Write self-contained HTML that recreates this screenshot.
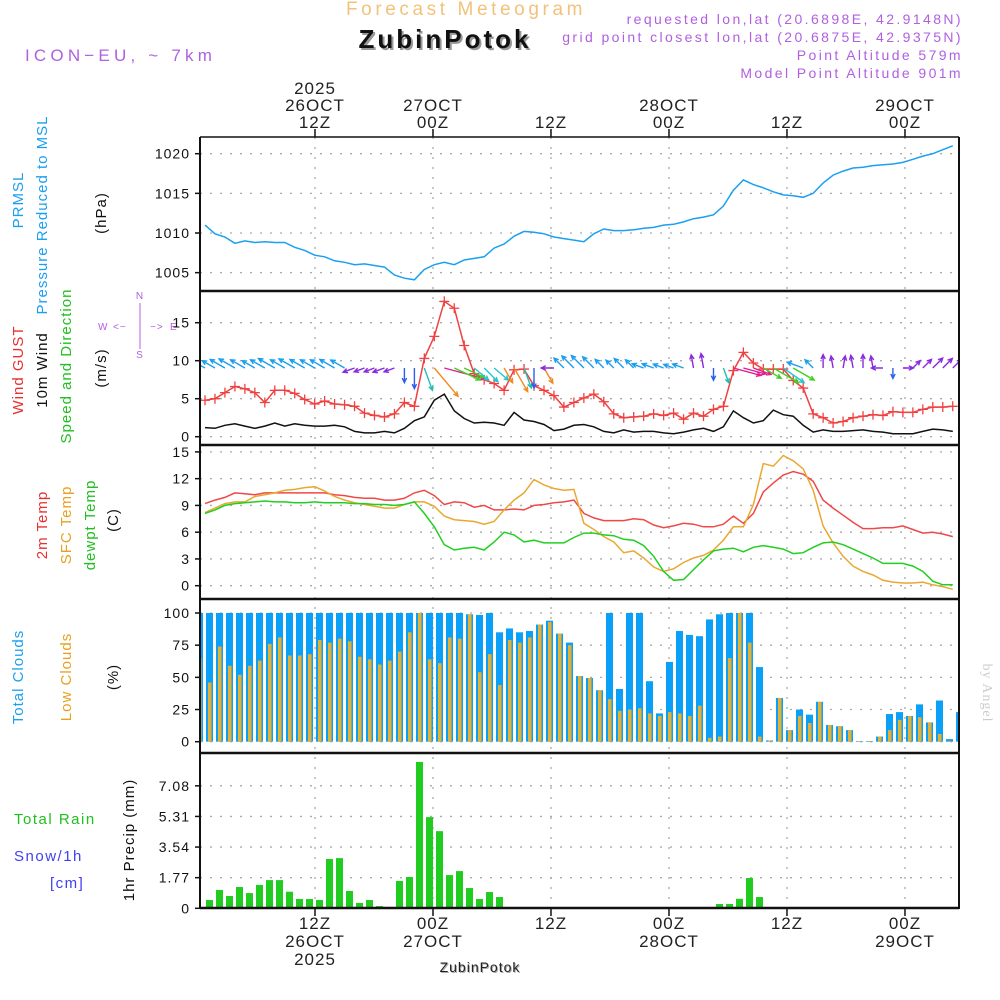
<!DOCTYPE html>
<html><head><meta charset="utf-8"><style>
html,body{margin:0;padding:0;background:#fff;}
svg{display:block;font-family:"Liberation Sans",sans-serif;}
</style></head><body>
<svg id="chart" width="1000" height="1000" viewBox="0 0 1000 1000" xmlns="http://www.w3.org/2000/svg">
<defs><clipPath id="plotclip"><rect x="200" y="137" width="759" height="772"/></clipPath></defs>
<g>
<text x="466" y="15" text-anchor="middle" font-size="19" fill="#f2c27a" letter-spacing="3.6">Forecast Meteogram</text>
<text x="447" y="50" text-anchor="middle" font-size="26" font-weight="bold" fill="#999" letter-spacing="3">ZubinPotok</text>
<text x="445" y="48" text-anchor="middle" font-size="26" font-weight="bold" fill="#111" letter-spacing="3">ZubinPotok</text>
<text x="25" y="61" font-size="17" fill="#b060e0" letter-spacing="4.2">ICON−EU, ~ 7km</text>
<text x="963" y="24" text-anchor="end" font-size="14" fill="#b060e0" letter-spacing="2.4">requested lon,lat (20.6898E, 42.9148N)</text>
<text x="963" y="42" text-anchor="end" font-size="14" fill="#b060e0" letter-spacing="2.4">grid point closest lon,lat (20.6875E, 42.9375N)</text>
<text x="963" y="60" text-anchor="end" font-size="14" fill="#b060e0" letter-spacing="2.4">Point Altitude 579m</text>
<text x="963" y="78" text-anchor="end" font-size="14" fill="#b060e0" letter-spacing="2.4">Model Point Altitude 901m</text>
</g>
<g id="labels" font-size="15" letter-spacing="1">
<text transform="translate(23,200) rotate(-90)" text-anchor="middle" fill="#1aa0f0">PRMSL</text>
<text transform="translate(47,215) rotate(-90)" text-anchor="middle" fill="#1aa0f0">Pressure Reduced to MSL</text>
<text transform="translate(106,213) rotate(-90)" text-anchor="middle" fill="#111">(hPa)</text>
<text transform="translate(23,370) rotate(-90)" text-anchor="middle" fill="#e83030">Wind GUST</text>
<text transform="translate(47,370) rotate(-90)" text-anchor="middle" fill="#111">10m Wind</text>
<text transform="translate(71,366) rotate(-90)" text-anchor="middle" fill="#20c020">Speed and Direction</text>
<text transform="translate(106,368) rotate(-90)" text-anchor="middle" fill="#111">(m/s)</text>
<g fill="#b060e0" font-size="10">
<text x="140" y="299" text-anchor="middle">N</text><text x="140" y="358" text-anchor="middle">S</text>
<text x="98" y="330">W</text><text x="170" y="330">E</text>
<text x="113" y="330">&lt;−</text><text x="150" y="330">−&gt;</text>
<line x1="140" y1="303" x2="140" y2="349" stroke="#b060e0" stroke-width="1"/>
</g>
<text transform="translate(47,525) rotate(-90)" text-anchor="middle" fill="#e83030">2m Temp</text>
<text transform="translate(71,525) rotate(-90)" text-anchor="middle" fill="#e8a020">SFC Temp</text>
<text transform="translate(95,525) rotate(-90)" text-anchor="middle" fill="#20c020">dewpt Temp</text>
<text transform="translate(118,520) rotate(-90)" text-anchor="middle" fill="#111">(C)</text>
<text transform="translate(23,677) rotate(-90)" text-anchor="middle" fill="#1aa0f0">Total Clouds</text>
<text transform="translate(71,677) rotate(-90)" text-anchor="middle" fill="#e8a020">Low Clouds</text>
<text transform="translate(118,677) rotate(-90)" text-anchor="middle" fill="#111">(%)</text>
<text x="14" y="824" fill="#20c020" letter-spacing="1.5">Total  Rain</text>
<text x="14" y="861" fill="#4040f0" letter-spacing="1.5">Snow/1h</text>
<text x="50" y="888" fill="#4040f0" letter-spacing="1.5">[cm]</text>
<text transform="translate(134,840) rotate(-90)" text-anchor="middle" fill="#111">1hr Precip (mm)</text>
<text transform="translate(983,693) rotate(90)" text-anchor="middle" fill="#ccc" font-family="Liberation Serif,serif" font-size="14">by Angel</text>
<text x="481" y="973" text-anchor="middle" fill="#aaa" font-size="14" letter-spacing="1">ZubinPotok</text>
<text x="480" y="972" text-anchor="middle" fill="#222" font-size="14" letter-spacing="1">ZubinPotok</text>
</g>
</svg>
<script>
// ---- data ----
var pressure=[1011.0,1009.9,1009.5,1008.7,1009.0,1008.8,1008.9,1008.8,1008.8,1008.2,1007.8,1007.2,1007.0,1006.5,1006.3,1006.0,1006.1,1005.9,1005.7,1004.7,1004.3,1004.1,1005.4,1006.0,1006.3,1006.0,1006.6,1006.8,1007.0,1008.1,1008.6,1009.6,1010.2,1010.1,1009.9,1009.5,1009.3,1009.1,1008.9,1009.9,1010.5,1010.3,1010.3,1010.4,1010.6,1010.7,1011.0,1011.1,1011.4,1011.8,1012.0,1012.3,1013.4,1015.4,1016.7,1016.1,1015.7,1015.2,1014.8,1014.7,1014.5,1015.0,1016.3,1017.3,1017.8,1018.2,1018.3,1018.5,1018.6,1018.7,1018.9,1019.3,1019.7,1020.0,1020.5,1021.0];
var gust=[4.8,5.0,5.8,6.6,6.3,5.8,4.5,6.1,6.1,5.7,4.9,4.3,4.7,4.3,4.2,4.0,3.1,2.8,2.6,3.0,4.5,4.0,10.3,13.2,17.8,16.9,12.0,8.3,7.5,7.0,6.1,8.8,8.9,6.7,6.1,5.4,3.9,4.5,5.1,5.6,4.6,3.0,2.5,2.6,2.7,3.0,2.8,3.1,2.3,3.1,2.7,3.6,4.0,8.7,11.1,9.7,8.9,8.9,8.9,7.4,6.4,3.0,2.5,1.8,2.0,2.5,2.7,2.9,2.8,3.3,3.2,3.2,3.6,3.9,3.9,4.0];
var windSpeed=[1.2,1.1,1.5,1.7,1.4,1.1,1.4,1.8,1.4,1.7,1.5,1.4,1.4,1.5,1.3,0.7,0.5,0.5,0.7,0.5,1.1,2.1,2.6,4.8,5.6,3.4,2.4,1.8,1.9,1.8,1.5,3.2,2.2,2.0,1.6,0.8,1.0,1.5,1.6,1.3,0.7,0.5,0.9,0.6,0.7,0.7,0.5,0.4,0.6,0.9,1.1,0.7,1.3,3.4,2.5,1.8,2.1,3.5,2.9,2.7,1.5,0.6,0.9,0.7,0.7,0.8,0.9,0.7,0.6,0.4,0.4,0.4,0.7,1.0,0.9,0.7];
var windDir=[150,150,150,150,150,150,150,150,150,150,150,150,150,150,150,200,200,200,200,200,270,270,290,310,345,335,335,320,315,320,300,300,290,270,300,180,135,135,135,135,135,135,135,135,160,160,160,160,160,100,100,270,290,345,345,340,330,330,325,330,160,135,90,100,80,100,90,100,180,270,0,45,45,45,45,45];
var temp2m=[9.2,9.6,9.9,10.4,10.3,10.2,10.4,10.4,10.4,10.4,10.4,10.4,10.4,10.2,10.1,9.9,9.8,9.8,9.6,9.6,9.8,10.4,10.7,10.1,9.1,9.4,9.3,8.8,9.0,8.5,8.5,8.6,8.5,9.0,9.1,9.3,9.4,9.6,8.1,7.6,7.3,7.3,7.3,7.5,7.4,6.8,6.5,6.7,7.0,6.9,6.6,6.6,6.9,7.8,7.0,8.1,10.5,11.5,12.4,12.8,12.5,11.7,9.6,8.7,7.9,7.1,6.4,6.4,6.5,6.5,6.7,6.3,5.9,6.0,5.8,5.5];
var tempSfc=[8.2,8.7,9.2,9.4,9.4,10.0,10.2,10.4,10.7,10.8,11.0,11.1,10.6,10.0,9.6,9.3,9.1,8.9,8.7,8.7,9.1,9.4,9.4,8.9,7.8,7.4,7.3,7.2,6.9,7.2,8.5,9.6,10.4,11.9,11.3,10.9,10.7,10.8,7.0,6.3,5.5,4.9,3.7,3.9,3.1,2.1,1.6,1.9,2.6,3.1,3.4,4.0,5.1,6.6,6.6,9.1,13.7,13.4,14.6,14.0,13.1,10.7,6.7,4.8,3.3,2.2,1.6,1.2,0.6,0.4,0.3,0.3,0.4,0.1,-0.1,-0.4];
var dewpt=[8.1,8.5,9.0,9.2,9.3,9.4,9.5,9.4,9.4,9.3,9.3,9.4,9.3,9.3,9.3,9.2,9.2,9.1,9.1,9.0,9.1,9.4,8.1,6.6,4.6,4.0,4.2,4.3,4.0,4.9,6.0,5.7,4.9,5.1,4.8,4.8,4.8,5.4,5.9,5.9,5.7,5.6,5.2,5.1,4.5,3.3,1.6,0.6,0.7,1.8,2.9,3.9,4.1,4.2,3.8,4.3,4.5,4.3,4.1,3.6,3.7,4.3,4.8,4.9,4.6,4.1,3.6,3.1,2.5,2.5,2.5,2.2,1.6,0.5,0.1,0.1];
var totalClouds=[100,100,100,100,100,100,100,100,100,100,100,100,100,100,100,100,100,100,100,100,100,100,100,100,100,100,100,99,98.5,100,85,88,85,86,91,94,84,77,51,49.5,40,100,41,100,100,47,22,62,86,83,82,95,99,100,100,100,58,1,34,9,25,21,31,13,12,9,0.5,0.5,4,21.5,23,20,29,15,32,2,23];
var lowClouds=[65,46,74,59,52,59,63,76,81,67,67,68,79,77,80,78,66,64,60,63,70,85,100,64,61,81,80,99,54,68,44,79,77,81,91,93,84,75,51,49.5,40,33,24,25,26,22,20,23,22,20,28,3,4,65,100,77,4,1,34,9,20,14.5,31,13,12,9,0.5,0.5,4,9,17,20,19,15,6,0.5,0.5];
var precip=[0,0.48,1.06,0.71,1.23,0.88,1.35,1.63,1.63,0.96,0.54,0.54,0.48,2.85,2.90,1.0,0.31,0.48,0.13,0.08,1.58,1.81,8.46,5.27,4.46,1.92,2.15,1.17,0.54,0.94,0.65,0,0,0,0,0,0,0,0,0,0,0,0,0,0,0,0,0,0,0,0,0,0.25,0.25,0.55,1.75,0.65,0,0,0,0,0,0,0,0,0,0,0,0,0,0,0,0,0,0,0,0];
var pressTicks=[1005,1010,1015,1020];
var windTicks=[0,5,10,15];
var tempTicks=[0,3,6,9,12,15];
var cloudTicks=[0,25,50,75,100];
var precipTicks=[0,1.77,3.54,5.31,7.08];
var timeTickHours=[12,24,36,48,60,72];
var topLabels=[["2025","26OCT","12Z"],["","27OCT","00Z"],["","","12Z"],["","28OCT","00Z"],["","","12Z"],["","29OCT","00Z"]];
var bottomLabels=[["12Z","26OCT","2025"],["00Z","27OCT",""],["12Z","",""],["00Z","28OCT",""],["12Z","",""],["00Z","29OCT",""]];

// ---- scales ----
var NS="http://www.w3.org/2000/svg";
var svg=document.getElementById('chart');
function el(tag,attrs,parent){var e=document.createElementNS(NS,tag);for(var k in attrs)e.setAttribute(k,attrs[k]);(parent||svg).appendChild(e);return e;}
function xLine(i){return 205+9.97*i;}
function xBar(i){return 199.5+10*i;}
function xTime(h){return 197+9.833*h;}
function yPress(p){return 233-(p-1010)*7.93;}
function yWind(v){return 436.7-v*7.6;}
function yTemp(t){return 585.7-t*8.92;}
function yCloud(c){return 741.7-c*1.287;}
function yPrecip(r){return 908.3-r*17.3;}
var L=200,R=959;
var panelEdges=[137,291,445,599,753,908];

// grids
var grid=el('g',{});


function hgrid(ticks,yf,fmt,name){
  ticks.forEach(function(t){
    var y=yf(t);
    var g=el('line',{x1:L,x2:R,y1:y,y2:y,stroke:'#aaa','stroke-width':1.3,'stroke-dasharray':'2 8'},grid);
    
    
    var tk=el('line',{x1:L-5,x2:L,y1:y,y2:y,stroke:'#111','stroke-width':1.5});
    
    
    var tx=el('text',{x:190,y:y+5,'text-anchor':'end','font-size':14,'letter-spacing':1,fill:'#111'});
    tx.textContent=fmt(t);
    
    
  });
}
hgrid(pressTicks,yPress,String,'pressure');
hgrid(windTicks,yWind,String,'wind');
hgrid(tempTicks,yTemp,String,'temp');
hgrid(cloudTicks,yCloud,String,'cloud');
hgrid(precipTicks,yPrecip,function(v){return v===0?'0':v.toFixed(2);},'precip');
timeTickHours.forEach(function(h,k){
  var x=xTime(h);
  var g=el('line',{x1:x,x2:x,y1:137,y2:908,stroke:'#aaa','stroke-width':1.3,'stroke-dasharray':'2 8'},grid);
  
  
  var t1=el('line',{x1:x,x2:x,y1:129,y2:137,stroke:'#111','stroke-width':1.5});
  
  
  var t2=el('line',{x1:x,x2:x,y1:908,y2:916,stroke:'#111','stroke-width':1.5});
  
  
  topLabels[k].forEach(function(s,j){ if(!s)return;
    var t=el('text',{x:x,y:94+j*17,'text-anchor':'middle','font-size':17,'letter-spacing':1,fill:'#222'});
    t.textContent=s;
    
    
  });
  bottomLabels[k].forEach(function(s,j){ if(!s)return;
    var t=el('text',{x:x,y:929+j*18,'text-anchor':'middle','font-size':17,'letter-spacing':1,fill:'#222'});
    t.textContent=s;
    
    
  });
});

var plot=el('g',{'clip-path':'url(#plotclip)'});


function polyline(arr,xf,yf,color,name,w){
  var pts=arr.map(function(v,i){return xf(i).toFixed(1)+','+yf(v).toFixed(1);}).join(' ');
  var p=el('polyline',{points:pts,fill:'none',stroke:color,'stroke-width':w||1.5},plot);
  
  
  return p;
}
// pressure
polyline(pressure,xLine,yPress,'#1aa0f0','pressure-line');
// wind
polyline(windSpeed,xLine,yWind,'#111','wind-speed-line');
polyline(gust,xLine,yWind,'#f04040','gust-line');
gust.forEach(function(v,i){
  var x=xLine(i),y=yWind(v);
  var m=el('path',{d:'M'+(x-5)+' '+y+'h10M'+x+' '+(y-5)+'v10',stroke:'#f04040','stroke-width':1.3,fill:'none'},plot);
  
  
});
function dirColor(d){
  if(d>=120&&d<170)return '#1a9ef0';
  if(d>=170&&d<230)return '#8a2ae0';
  if(d>=230&&d<280)return '#2a60f0';
  if(d>=280&&d<300)return '#20c0b0';
  if(d>=300&&d<315)return '#f08a20';
  if(d>=315&&d<330)return '#20c8d0';
  if(d>=330&&d<340)return '#40d020';
  if(d>=340&&d<360)return '#e02090';
  return '#8a2ae0';
}
windDir.forEach(function(d,i){
  var x0=xLine(i),y0=368;
  var len=8+6*windSpeed[i];
  var a=d*Math.PI/180;
  var x1=x0+len*Math.cos(a),y1=y0-len*Math.sin(a);
  var c=dirColor(d);
  var h1=a+Math.PI-0.45,h2=a+Math.PI+0.45,hl=5;
  var dd='M'+x0.toFixed(1)+' '+y0+'L'+x1.toFixed(1)+' '+y1.toFixed(1)+
    'M'+(x1+hl*Math.cos(h1)).toFixed(1)+' '+(y1-hl*Math.sin(h1)).toFixed(1)+'L'+x1.toFixed(1)+' '+y1.toFixed(1)+
    'L'+(x1+hl*Math.cos(h2)).toFixed(1)+' '+(y1-hl*Math.sin(h2)).toFixed(1);
  var ar=el('path',{d:dd,stroke:c,'stroke-width':1.4,fill:'none'},plot);
  
  
});
// temps
polyline(temp2m,xLine,yTemp,'#f04848','temp-2m-line');
polyline(tempSfc,xLine,yTemp,'#eaa830','temp-sfc-line');
polyline(dewpt,xLine,yTemp,'#20d020','dewpoint-line');
// clouds
totalClouds.forEach(function(v,i){
  var x=xBar(i),y=yCloud(v);
  var b=el('rect',{x:x-3.5,y:y,width:7,height:yCloud(0)-y,fill:'#0aa0f8'},plot);
  
  
  var lv=lowClouds[i],ly=yCloud(lv);
  var lb=el('rect',{x:x-1.5,y:ly,width:3.5,height:yCloud(0)-ly,fill:'#e8b030'},plot);
  
  
});
// precip
precip.forEach(function(v,i){
  if(v<=0)return;
  var x=xBar(i),y=yPrecip(v);
  var b=el('rect',{x:x-3.5,y:y,width:7,height:yPrecip(0)-y,fill:'#20cc20'},plot);
  
  
});
// frames
panelEdges.forEach(function(y,k){
  var ln=el('line',{x1:L,x2:R,y1:y,y2:y,stroke:'#111','stroke-width':(k===0?1.5:2.5)});
  
  
});
var lb=el('line',{x1:L,x2:L,y1:137,y2:909,stroke:'#111','stroke-width':2});


var rb=el('line',{x1:R,x2:R,y1:137,y2:909,stroke:'#111','stroke-width':2});


</script>
</body></html>
